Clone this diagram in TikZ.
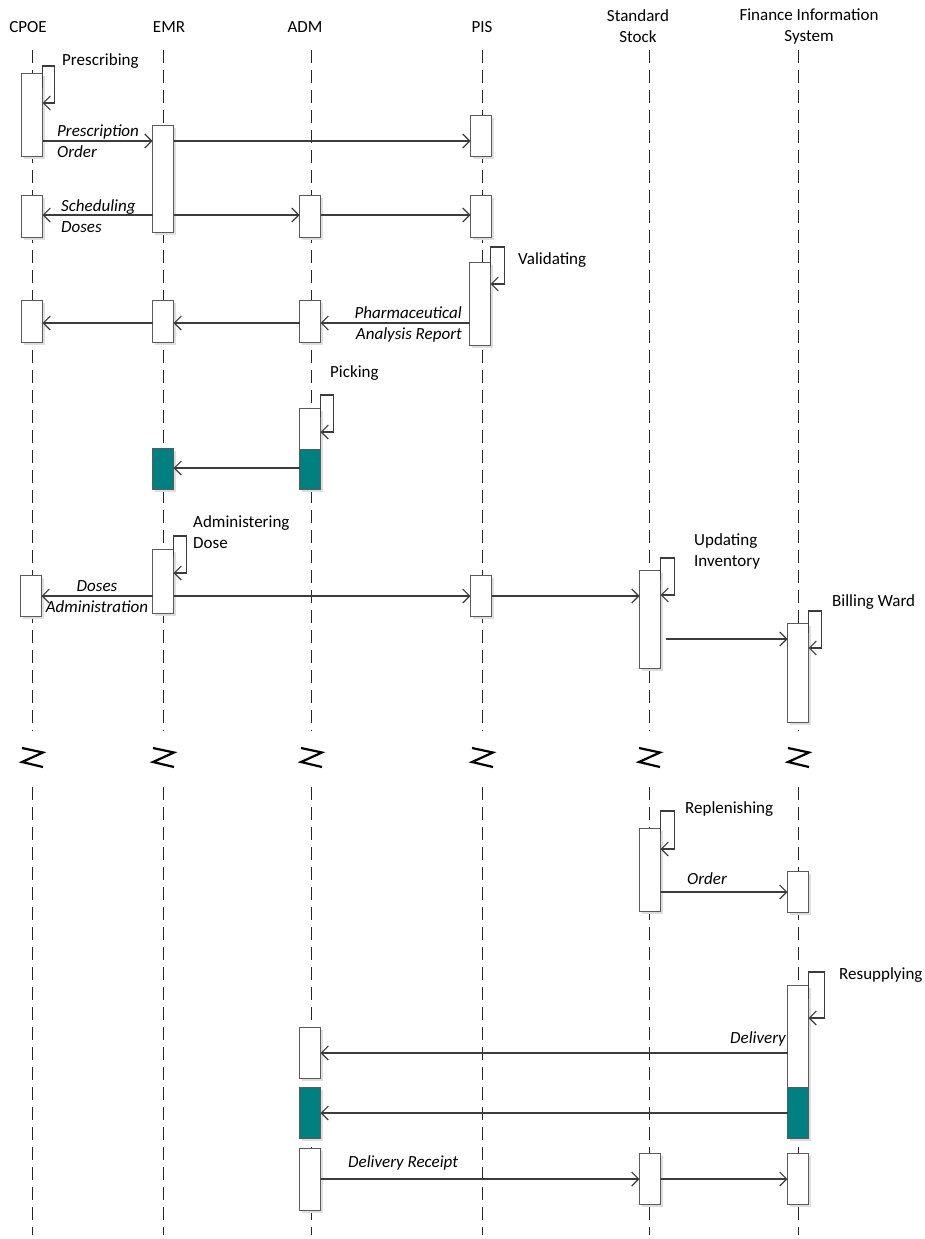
\documentclass[tikz,border=0pt]{standalone}
\usepackage{fontspec}
\setmainfont{Carlito}
\usetikzlibrary{arrows.meta,shadows,calc}
\definecolor{tealbox}{RGB}{0,128,128}
\definecolor{boxline}{RGB}{90,90,90}
\definecolor{msgline}{RGB}{60,60,60}
\begin{document}
\begin{tikzpicture}[x=1pt,y=-1pt,
  font=\fontsize{17}{21}\selectfont,
  abox/.style={draw=boxline, fill=white, line width=0.8pt, minimum width=21pt,
    inner sep=0pt, outer sep=0pt, anchor=north,
    general shadow={fill=black!13, shadow xshift=2.5pt, shadow yshift=-2.5pt}},
  tbox/.style={abox, fill=tealbox},
  tpart/.style={draw=boxline, fill=tealbox, line width=0.8pt, minimum width=21pt,
    inner sep=0pt, outer sep=0pt, anchor=north},
  msg/.style={draw=msgline, line width=1.2pt,
    -{Straight Barb[length=7pt,width=14pt,line width=1.1pt]}},
  lifeline/.style={draw=black!85, line width=0.9pt, dash pattern=on 13pt off 7pt},
  brk/.style={draw=black, line width=2.2pt},
  hdr/.style={align=center, inner sep=0pt},
  lbl/.style={inner sep=0pt, font=\fontsize{17}{21}\selectfont\itshape},
  actlbl/.style={inner sep=0pt, align=left}
]
\useasboundingbox (0,0) rectangle (925,1239);

% headers
\node[hdr] (hCPOE) at (28,27) {CPOE};
\node[hdr] (hEMR) at (169,27) {EMR};
\node[hdr] (hADM) at (305,27) {ADM};
\node[hdr] (hPIS) at (482,27) {PIS};
\node[hdr] (hSTD) at (638,26) {Standard\\Stock};
\node[hdr] (hFIN) at (809,26) {Finance Information\\System};

% lifeline anchors
\coordinate (L1) at (32,50);
\coordinate (L2) at (163,50);
\coordinate (L3) at (311,50);
\coordinate (L4) at (482,50);
\coordinate (L5) at (649,50);
\coordinate (L6) at (798,50);

\foreach \L in {L1,L2,L3,L4,L5,L6}{
  \draw[lifeline] (\L) -- (\L |- 0,731);
  \draw[lifeline] (\L |- 0,787) -- (\L |- 0,1235);
}
\foreach \x in {32,163,311,482,649,798}{
  \draw[brk] (\x-10,748) -- (\x+11,752.5) -- (\x-10,762) -- (\x+11,767);
}

% activation boxes: CPOE
\node[abox, minimum height=83pt] (c1) at (32,73) {};
\node[abox, minimum height=42pt] (c2) at (32,195) {};
\node[abox, minimum height=42pt] (c3) at (32,300) {};
\node[abox, minimum height=41pt] (c4) at (31,575) {};
% EMR
\node[abox, minimum height=107pt] (e1) at (163,125) {};
\node[abox, minimum height=42pt] (e2) at (163,300) {};
\node[tbox, minimum height=41pt] (e3) at (163,448) {};
\node[abox, minimum height=64pt] (e4) at (163,549) {};
% ADM
\node[abox, minimum height=42pt] (a1) at (310,195) {};
\node[abox, minimum height=42pt] (a2) at (310,300) {};
\node[abox, minimum height=81pt] (a3) at (310,408) {};
\node[tpart, minimum height=40pt] (a3t) at (310,449) {};
\node[abox, minimum height=51pt] (a4) at (310,1027) {};
\node[tbox, minimum height=51pt] (a5) at (310,1087) {};
\node[abox, minimum height=62pt] (a6) at (310,1148) {};
% PIS
\node[abox, minimum height=41pt] (p1) at (481,115) {};
\node[abox, minimum height=42pt] (p2) at (481,195) {};
\node[abox, minimum height=83pt] (p3) at (480,262) {};
\node[abox, minimum height=41pt] (p4) at (481,575) {};
% Standard Stock
\node[abox, minimum height=98pt] (s1) at (650,570) {};
\node[abox, minimum height=83pt] (s2) at (650,828) {};
\node[abox, minimum height=51pt] (s3) at (650,1153) {};
% Finance Information System
\node[abox, minimum height=99pt] (f1) at (798,623) {};
\node[abox, minimum height=41pt] (f2) at (798,871) {};
\node[abox, minimum height=153pt] (f3) at (798,985) {};
\node[tpart, minimum height=51pt] (f3t) at (798,1087) {};
\node[abox, minimum height=51pt] (f4) at (798,1153) {};

% self calls
\draw[msg] (c1.east |- 0,88) -- ++(0,-22) -- ++(12,0) -- ++(0,37) -- (c1.east |- 0,103);
\node[actlbl, anchor=west] (tPresc) at (62,61) {Prescribing};
\draw[msg] (p3.east |- 0,267) -- ++(0,-20) -- ++(14,0) -- ++(0,37) -- (p3.east |- 0,284);
\node[actlbl, anchor=west] (tValid) at (518,260) {Validating};
\draw[msg] (a3.east |- 0,417) -- ++(0,-22) -- ++(13,0) -- ++(0,37) -- (a3.east |- 0,432);
\node[actlbl, anchor=west] (tPick) at (330,373) {Picking};
\draw[msg] (e4.east |- 0,557) -- ++(0,-21) -- ++(13,0) -- ++(0,37) -- (e4.east |- 0,573);
\node[actlbl, anchor=west] (tAdmin) at (193,532) {Administering\\Dose};
\draw[msg] (s1.east |- 0,580) -- ++(0,-22) -- ++(14,0) -- ++(0,37) -- (s1.east |- 0,595);
\node[actlbl, anchor=west] (tUpd) at (694,551) {Updating\\Inventory};
\draw[msg] (f1.east |- 0,633) -- ++(0,-22) -- ++(13,0) -- ++(0,37) -- (f1.east |- 0,648);
\node[actlbl, anchor=west] (tBill) at (832,602) {Billing Ward};
\draw[msg] (s2.east |- 0,833) -- ++(0,-22) -- ++(14,0) -- ++(0,38) -- (s2.east |- 0,849);
\node[actlbl, anchor=west] (tRepl) at (685,809) {Replenishing};
\draw[msg] (f3.east |- 0,999) -- ++(0,-27) -- ++(16,0) -- ++(0,46) -- (f3.east |- 0,1018);
\node[actlbl, anchor=west] (tResup) at (839,975) {Resupplying};

% messages
\draw[msg] (c1.east |- 0,141) -- (e1.west |- 0,141);
\draw[msg] (e1.east |- 0,141) -- (p1.west |- 0,141);
\node[lbl, align=left, anchor=west] (lPresc) at (57,141) {Prescription\\Order};

\draw[msg] (e1.west |- 0,215) -- (c2.east |- 0,215);
\draw[msg] (e1.east |- 0,215) -- (a1.west |- 0,215);
\draw[msg] (a1.east |- 0,215) -- (p2.west |- 0,215);
\node[lbl, align=left, anchor=west] (lSched) at (61,216) {Scheduling\\Doses};

\draw[msg] (p3.west |- 0,323) -- (a2.east |- 0,323);
\draw[msg] (a2.west |- 0,323) -- (e2.east |- 0,323);
\draw[msg] (e2.west |- 0,323) -- (c3.east |- 0,323);
\node[lbl, align=right, anchor=east] (lPharm) at (462,324) {Pharmaceutical\\Analysis Report};

\draw[msg] (a3t.west |- 0,468) -- (e3.east |- 0,468);

\draw[msg] (e4.west |- 0,596) -- (c4.east |- 0,596);
\draw[msg] (e4.east |- 0,596) -- (p4.west |- 0,596);
\draw[msg] (p4.east |- 0,596) -- (s1.west |- 0,596);
\node[lbl, align=center] (lDoses) at (97,597) {Doses\\Administration};

\draw[msg, shorten <=5pt] (s1.east |- 0,639) -- (f1.west |- 0,639);

\draw[msg] (s2.east |- 0,892) -- (f2.west |- 0,892);
\node[lbl, anchor=west] (lOrder) at (687,879) {Order};

\draw[msg] (f3.west |- 0,1053) -- (a4.east |- 0,1053);
\node[lbl, anchor=east] (lDeliv) at (786,1039) {Delivery};
\draw[msg] (f3t.west |- 0,1113) -- (a5.east |- 0,1113);

\draw[msg] (a6.east |- 0,1179) -- (s3.west |- 0,1179);
\draw[msg] (s3.east |- 0,1179) -- (f4.west |- 0,1179);
\node[lbl, anchor=west] (lRcpt) at (348,1163) {Delivery Receipt};
\end{tikzpicture}
\end{document}
